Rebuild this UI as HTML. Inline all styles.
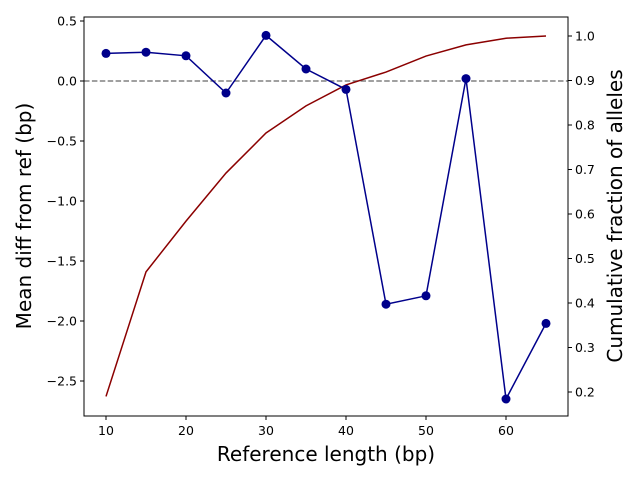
<!DOCTYPE html>
<html><head><meta charset="utf-8"><style>
body{margin:0;background:#fff;font-family:"Liberation Sans","DejaVu Sans",sans-serif}
</style></head><body>
<svg id="chart" width="640" height="480" xmlns="http://www.w3.org/2000/svg" font-family="DejaVu Sans, Liberation Sans, sans-serif"></svg>
<script>
const lengths=[10,15,20,25,30,35,40,45,50,55,60,65];
const meanDiff=[0.23,0.24,0.21,-0.10,0.38,0.10,-0.07,-1.86,-1.79,0.02,-2.65,-2.02];
const cumFrac=[0.19,0.47,0.584,0.692,0.782,0.843,0.89,0.919,0.955,0.98,0.995,1.0];
const xTicks=[10,20,30,40,50,60];
const yLeftTicks=[0.5,0.0,-0.5,-1.0,-1.5,-2.0,-2.5];
const yRightTicks=[1.0,0.9,0.8,0.7,0.6,0.5,0.4,0.3,0.2];
const L=84,R=568,T=17,B=416;
const X=v=>106+8*(v-10);
const YL=v=>81-120*v;
const YR=v=>36+(1-v)*445;
const svg=document.getElementById('chart');
const NS='http://www.w3.org/2000/svg';
function mk(tag,attrs,parent){const e=document.createElementNS(NS,tag);for(const k in attrs)e.setAttribute(k,attrs[k]);(parent||svg).appendChild(e);return e;}
let z=mk('line',{x1:L,x2:R,y1:YL(0),y2:YL(0),stroke:'#808080','stroke-width':1.5,'stroke-dasharray':'5.5,2.4'});


let rp=mk('polyline',{points:lengths.map((v,i)=>X(v)+','+YR(cumFrac[i])).join(' '),fill:'none',stroke:'#8b0000','stroke-width':1.5});


let bp=mk('polyline',{points:lengths.map((v,i)=>X(v)+','+YL(meanDiff[i])).join(' '),fill:'none',stroke:'#00008b','stroke-width':1.5});


lengths.forEach((v,i)=>{const c=mk('circle',{cx:X(v),cy:YL(meanDiff[i]),r:4.5,fill:'#00008b'});

});
let f=mk('rect',{x:L,y:T,width:R-L,height:B-T,fill:'none',stroke:'#000','stroke-width':1});


xTicks.forEach(v=>{mk('line',{x1:X(v),x2:X(v),y1:B,y2:B+4,stroke:'#000'});
const t=mk('text',{x:X(v),y:B+19,'text-anchor':'middle','font-size':12.5});t.textContent=v;

});
yLeftTicks.forEach(v=>{mk('line',{x1:L-4,x2:L,y1:YL(v),y2:YL(v),stroke:'#000'});
const t=mk('text',{x:L-7,y:YL(v)+4.5,'text-anchor':'end','font-size':12.5});t.textContent=(v<0?'\u2212':'')+Math.abs(v).toFixed(1);

});
yRightTicks.forEach(v=>{mk('line',{x1:R,x2:R+4,y1:YR(v),y2:YR(v),stroke:'#000'});
const t=mk('text',{x:R+7,y:YR(v)+4.5,'font-size':12.5});t.textContent=v.toFixed(1);

});
let xt=mk('text',{x:(L+R)/2,y:461,'text-anchor':'middle','font-size':20});xt.textContent='Reference length (bp)';


let yt=mk('text',{x:0,y:0,'text-anchor':'middle','font-size':20,transform:'translate(31,216) rotate(-90)'});yt.textContent='Mean diff from ref (bp)';


let yr=mk('text',{x:0,y:0,'text-anchor':'middle','font-size':20,transform:'translate(622,216) rotate(-90)'});yr.textContent='Cumulative fraction of alleles';


</script>
</body></html>
